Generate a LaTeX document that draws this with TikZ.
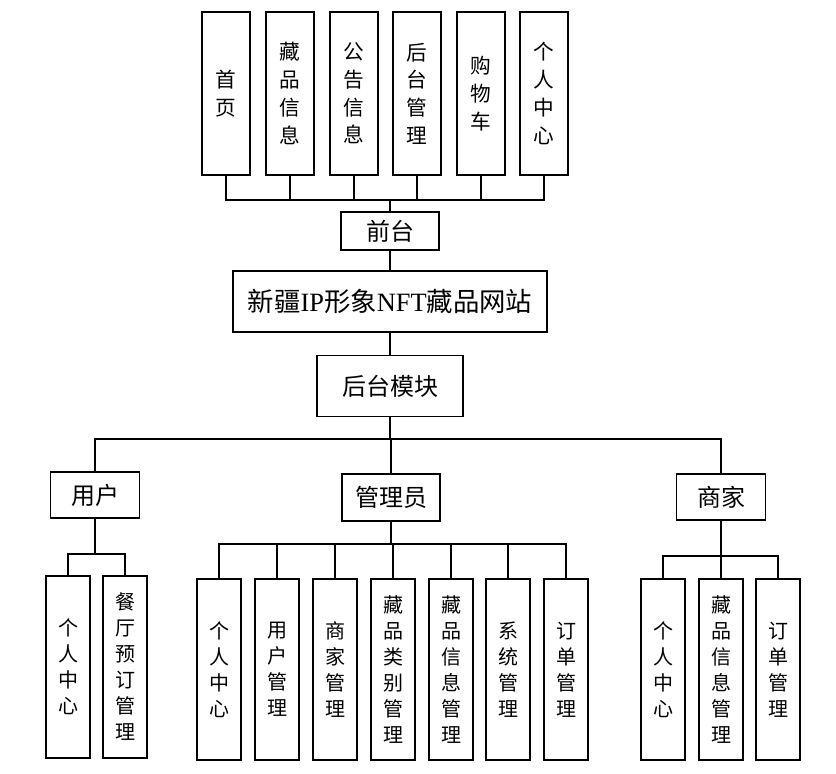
\documentclass[tikz,border=0pt]{standalone}
\usepackage{fontspec}
\setmainfont{Liberation Serif}
\newfontfamily\cjk{Noto Sans CJK SC}
\begin{document}
\begin{tikzpicture}[x=0.75pt,y=-0.75pt,
  box/.style={draw, line width=1pt, inner sep=0pt, fill=white, align=center},
  topbox/.style={box, minimum width=36pt, minimum height=122.25pt, font=\cjk\fontsize{15.5pt}{20.8pt}\selectfont},
  subbox/.style={box, minimum width=33pt, minimum height=135.75pt, font=\cjk\fontsize{15pt}{19.5pt}\selectfont},
  headbox/.style={box, font=\cjk\fontsize{18pt}{22pt}\selectfont},
  link/.style={draw, line width=0.95pt}
]
\useasboundingbox (0,0) rectangle (836,774);
% top row
\node[topbox] (t1) at (226,93.5) {首\\页};
\node[topbox] (t2) at (290,93.5) {藏\\品\\信\\息};
\node[topbox] (t3) at (354,93.5) {公\\告\\信\\息};
\node[topbox] (t4) at (417,93.5) {后\\台\\管\\理};
\node[topbox] (t5) at (481,93.5) {购\\物\\车};
\node[topbox] (t6) at (544,93.5) {个\\人\\中\\心};
\node[headbox, minimum width=73.5pt, minimum height=28.5pt] (qt) at (390,231) {前台};
\node[headbox, minimum width=235.5pt, minimum height=45.75pt, font=\cjk\fontsize{19.8pt}{24pt}\selectfont] (site) at (390,301.5) {新疆{\rmfamily IP}形象{\rmfamily NFT}藏品网站};
\node[headbox, minimum width=109.5pt, minimum height=45.75pt] (ht) at (390,386) {后台模块};
\coordinate (busT) at (390,200);
\foreach \i in {1,...,6} {\draw[link] (t\i.south) |- (busT);}
\draw[link] (busT) -- (qt.north);
\draw[link] (qt.south) -- (site.north);
\draw[link] (site.south) -- (ht.north);
% second level
\node[headbox, minimum width=66.75pt, minimum height=34.5pt] (user) at (95,495) {用户};
\node[headbox, minimum width=73.5pt, minimum height=35.25pt] (admin) at (391,497.5) {管理员};
\node[headbox, minimum width=66.75pt, minimum height=34.5pt] (merch) at (721,497) {商家};
\coordinate (busB) at (390,439);
\draw[link] (ht.south) -- (busB);
\draw[link] (user.north) |- (busB);
\draw[link] (merch.north) |- (busB);
\draw[link] (admin.north) -- (admin.north |- busB);
% user subs
\node[subbox, minimum height=136.5pt] (u1) at (68,667) {个\\人\\中\\心};
\node[subbox, minimum height=136.5pt] (u2) at (125,667) {餐\\厅\\预\\订\\管\\理};
\coordinate (busU) at (95,554);
\draw[link] (user.south) -- (busU);
\draw[link] (u1.north) |- (busU);
\draw[link] (u2.north) |- (busU);
% admin subs
\node[subbox] (a1) at (219,669.5) {个\\人\\中\\心};
\node[subbox] (a2) at (277,669.5) {用\\户\\管\\理};
\node[subbox] (a3) at (335,669.5) {商\\家\\管\\理};
\node[subbox] (a4) at (393,669.5) {藏\\品\\类\\别\\管\\理};
\node[subbox] (a5) at (451,669.5) {藏\\品\\信\\息\\管\\理};
\node[subbox] (a6) at (508,669.5) {系\\统\\管\\理};
\node[subbox] (a7) at (566,669.5) {订\\单\\管\\理};
\coordinate (busA) at (391,544);
\draw[link] (admin.south) -- (busA);
\foreach \i in {1,...,7} {\draw[link] (a\i.north) |- (busA);}
% merchant subs
\node[subbox] (m1) at (663,669.5) {个\\人\\中\\心};
\node[subbox] (m2) at (721,669.5) {藏\\品\\信\\息\\管\\理};
\node[subbox] (m3) at (778,669.5) {订\\单\\管\\理};
\coordinate (busM) at (721,556);
\draw[link] (merch.south) -- (busM);
\foreach \i in {1,...,3} {\draw[link] (m\i.north) |- (busM);}
\end{tikzpicture}
\end{document}
